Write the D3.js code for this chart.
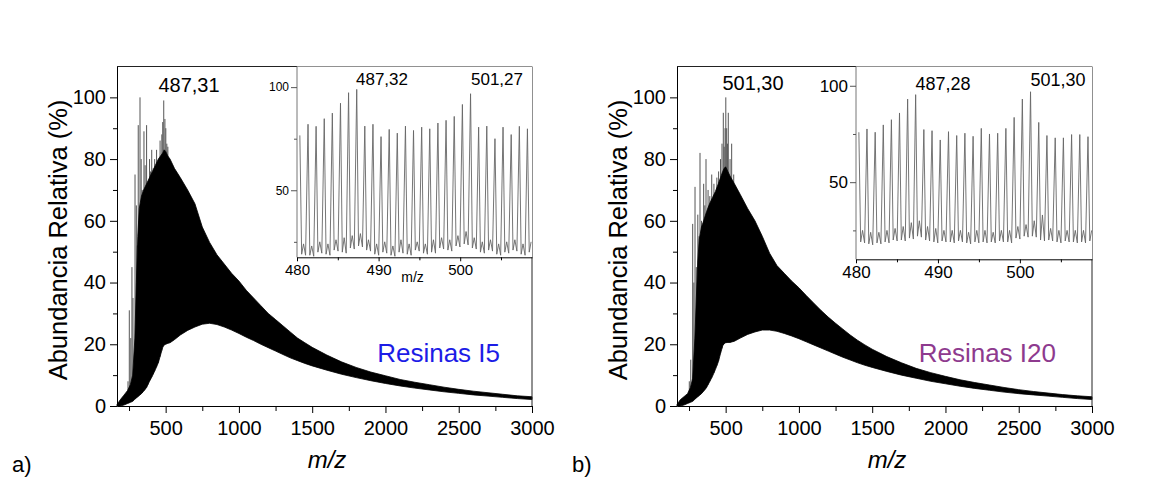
<!DOCTYPE html>
<html>
<meta charset="utf-8" />
<script src="https://d3js.org/d3.v7.min.js"></script>
<style>
  body { margin: 0; background: #fff; }
  svg text { font-family: "Liberation Sans", Arial, sans-serif; }
</style>
<body>
<svg width="1165" height="478" id="fig"></svg>
<script>
// m/z sample points for the envelopes of the full spectra
const envMz = [168, 190, 215, 240, 260, 275, 290, 300, 310, 320, 335, 350, 370, 390, 410, 430, 450, 465, 480, 490,
  500, 515, 530, 560, 600, 650, 700, 750, 800, 850, 900, 950, 1000, 1050, 1100, 1150, 1200, 1250, 1300, 1350,
  1400, 1450, 1500, 1600, 1700, 1800, 1900, 2000, 2100, 2200, 2300, 2400, 2500, 2600, 2700, 2800, 2900, 3000];

// Resinas I5 (a)
const upperA = [0.5, 2, 3.5, 5, 7, 10, 22, 40, 55, 64, 68, 70, 72, 74, 76, 78, 80, 81, 82, 83,
  82.5, 81, 80, 77, 74, 70, 65.5, 58, 53, 49, 46, 43, 40.5, 37.5, 35, 32.5, 30, 28, 26, 24,
  22, 20.5, 19, 16.5, 14.3, 12.5, 11, 9.8, 8.6, 7.7, 6.9, 6.1, 5.4, 4.8, 4.3, 3.8, 3.3, 3.0];
const lowerA = [0, 0, 0.3, 0.8, 1.2, 1.5, 2.2, 2.6, 3, 3.4, 4, 4.8, 6, 8, 9.8, 11.8, 14, 16.5, 19, 19.8,
  20, 20.3, 20.5, 21.5, 23, 24.5, 25.6, 26.5, 26.8, 26.4, 25.6, 24.6, 23.5, 22.3, 21.2, 20, 18.9, 17.8, 16.7, 15.6,
  14.7, 13.8, 13, 11.6, 10.3, 9.2, 8.2, 7.3, 6.5, 5.8, 5.2, 4.6, 4.1, 3.6, 3.2, 2.8, 2.4, 2.1];
const spikesA = [[243, 8], [252, 31], [262, 22], [270, 45], [277, 35], [291, 75], [300, 65], [306, 52], [313, 91],
  [318, 60], [325, 100], [333, 80], [340, 70], [352, 89], [360, 78], [370, 91], [378, 72], [390, 80], [397, 76],
  [405, 83], [415, 77], [425, 80], [438, 83], [450, 78], [462, 86], [474, 88], [480, 92], [487, 99], [495, 93],
  [501, 90], [508, 85], [515, 84]];

// Resinas I20 (b)
const upperB = [0.5, 2, 3, 4, 6, 9, 22, 35, 47, 54, 58, 60, 63, 65.5, 67.5, 69.5, 72, 74, 76, 77,
  77.5, 76, 74.5, 72, 68.5, 64, 60, 55, 49.5, 45.5, 43, 40.5, 38.3, 35.8, 33.4, 31, 28.8, 26.8, 24.9, 23,
  21.3, 19.8, 18.4, 16, 14, 12.2, 10.8, 9.6, 8.5, 7.6, 6.8, 6.0, 5.3, 4.7, 4.2, 3.7, 3.3, 3.0];
const lowerB = [0, 0, 0.3, 0.8, 1.2, 1.5, 2.2, 2.6, 3, 3.4, 4, 4.8, 6, 7.8, 9.6, 11.8, 14.3, 17, 19.5, 20.2,
  20.5, 20.6, 20.6, 21, 22, 23.2, 24, 24.6, 24.6, 24.2, 23.5, 22.7, 21.8, 20.8, 19.8, 18.8, 17.8, 16.8, 15.8, 14.9,
  14, 13.2, 12.5, 11.2, 10, 9, 8, 7.2, 6.4, 5.7, 5.1, 4.5, 4.0, 3.6, 3.2, 2.8, 2.4, 2.1];
const spikesB = [[252, 8], [262, 15], [275, 59], [283, 40], [291, 71], [300, 45], [310, 62], [318, 55], [325, 82],
  [335, 60], [350, 72], [358, 65], [366, 80], [380, 70], [392, 68], [405, 75], [420, 72], [440, 74], [452, 76],
  [465, 80], [475, 85], [484, 95], [490, 84], [496, 90], [501, 100], [507, 90], [512, 85], [518, 95], [530, 80],
  [541, 85], [555, 75]];

// zoomed region 480-509
const insetPeaksA = [480.35, 481.35, 482.34, 483.34, 484.33, 485.33, 486.32, 487.32, 488.31, 489.31, 490.30,
  491.30, 492.29, 493.29, 494.28, 495.28, 496.27, 497.27, 498.27, 499.27, 500.27, 501.27, 502.26, 503.26,
  504.26, 505.25, 506.25, 507.25, 508.24];
const insetHeightsA = [76.6, 82, 81, 84.7, 87.4, 92.2, 97.3, 98.9, 81.1, 82, 76, 79.5, 77.7, 81.1, 79, 80.6,
  79.8, 82.6, 83.9, 85.8, 91.6, 96.8, 80.6, 81.1, 75, 80.6, 77, 81, 79.8];
const insetTroughsA = [19, 18.5, 20, 19, 21, 20, 22, 23, 21, 19, 20, 18.5, 20, 19, 21, 19.5, 20, 22, 21, 23,
  24, 22, 20, 21, 19, 20, 21, 19, 20];
const insetBumpsA = [24, 23, 25, 24, 26, 27, 28, 29, 26, 24, 25, 23, 26, 24, 25, 24, 26, 27, 26, 28, 30, 27,
  25, 26, 24, 25, 26, 24, 25];

const insetPeaksB = [480.35, 481.34, 482.34, 483.33, 484.32, 485.31, 486.30, 487.28, 488.28, 489.28, 490.28,
  491.29, 492.29, 493.29, 494.29, 495.29, 496.29, 497.29, 498.29, 499.30, 500.30, 501.30, 502.30, 503.30,
  504.31, 505.31, 506.31, 507.31, 508.31];
const insetHeightsB = [75.9, 77.6, 75.9, 79.7, 82.4, 85.9, 93.1, 95.4, 77.3, 76.7, 71.9, 76.2, 74.2, 75.4, 73.8,
  77.9, 75, 75.4, 77.9, 83.6, 93.1, 96.9, 81, 74.2, 73, 73, 74.7, 74.7, 73.6];
const insetTroughsB = [19, 18, 18.5, 19, 20, 20, 21, 22, 20, 19, 19.5, 19, 19.5, 18.5, 19, 19, 19, 19.5, 19, 21,
  22, 22, 20, 20, 19, 19.5, 19, 19, 19.5];
const insetBumpsB = [25, 24, 24, 25, 26, 27, 29, 30, 27, 26, 25, 25, 25, 24, 25, 25, 24, 25, 25, 27, 28, 30, 33,
  26, 25, 25, 25, 25, 25];

const xMajor = [500, 1000, 1500, 2000, 2500, 3000];
const xMinor = [250, 750, 1250, 1750, 2250, 2750];
const yMajor = [0, 20, 40, 60, 80, 100];
const yMinor = [10, 30, 50, 70, 90];
const insetXMajor = [480, 490, 500];
const insetXMinor = [485, 495, 505];
const insetYMajor = [50, 100];
const insetYMinor = [25, 75];

const svg = d3.select("#fig");
svg.append("rect").attr("width", 1165).attr("height", 478).attr("fill", "#fff");

function styleAxis(g, size) {
  g.attr("font-family", "Liberation Sans, Arial, sans-serif").attr("font-size", size);
  g.selectAll("path,line").attr("stroke", "#000");
  g.selectAll("text").attr("fill", "#000");
}

function drawPanel(p) {
  const left = 117 + p.dx, right = 532 + p.dx, top = 66.5, bottom = 406;
  const x = d3.scaleLinear().domain([168, 3000]).range([left, right]);
  const y = d3.scaleLinear().domain([0, 110]).range([bottom, top]);
  const g = svg.append("g");

  // base of the thin peaks = lower envelope at that m/z
  const lowAt = d3.scaleLinear().domain(envMz).range(p.lower);

  g.selectAll(".spike")
    .data(p.spikes)
    .enter()
    .append("line")
    .attr("x1", (d) => x(d[0]))
    .attr("x2", (d) => x(d[0]))
    .attr("y1", (d) => y(lowAt(d[0])))
    .attr("y2", (d) => y(d[1]))
    .attr("stroke", "#555")
    .attr("stroke-width", 1);

  const env = envMz.map((m, i) => ({ m: m, hi: p.upper[i], lo: p.lower[i] }));
  const area = d3.area()
    .x((d) => x(d.m))
    .y0((d) => y(d.lo))
    .y1((d) => y(d.hi));
  g.append("path").datum(env).attr("d", area)
    .attr("fill", "#000").attr("stroke", "#000").attr("stroke-width", 0.8);

  // frame
  g.append("path")
    .attr("d", `M${left},${top}H${right}V${bottom}`)
    .attr("fill", "none").attr("stroke", "#222").attr("stroke-width", 1);

  const ax = g.append("g").attr("transform", `translate(0,${bottom})`)
    .call(d3.axisBottom(x).tickValues(xMajor).tickSize(7).tickSizeOuter(0).tickPadding(8).tickFormat(d3.format("d")));
  styleAxis(ax, 20);
  const axm = g.append("g").attr("transform", `translate(0,${bottom})`)
    .call(d3.axisBottom(x).tickValues(xMinor).tickSize(5).tickFormat(""));
  axm.select(".domain").remove();
  styleAxis(axm, 20);

  const ay = g.append("g").attr("transform", `translate(${left},0)`)
    .call(d3.axisLeft(y).tickValues(yMajor).tickSize(7).tickSizeOuter(0).tickPadding(4));
  styleAxis(ay, 20);
  const aym = g.append("g").attr("transform", `translate(${left},0)`)
    .call(d3.axisLeft(y).tickValues(yMinor).tickSize(4).tickFormat(""));
  aym.select(".domain").remove();
  styleAxis(aym, 20);

  g.append("text")
    .attr("transform", `translate(${67 + p.dx},240) rotate(-90)`)
    .attr("text-anchor", "middle").attr("font-size", 25.5)
    .text("Abundancia Relativa (%)");

  g.append("text")
    .attr("x", 327 + p.dx).attr("y", 468)
    .attr("text-anchor", "middle").attr("font-size", 24).attr("font-style", "italic")
    .text("m/z");

  g.append("text")
    .attr("x", 12 + p.dx).attr("y", 472)
    .attr("font-size", 22)
    .text(p.letter);

  g.append("text")
    .attr("x", p.mainLabelX).attr("y", p.mainLabelY)
    .attr("text-anchor", "middle").attr("font-size", 20)
    .text(p.mainLabel);

  g.append("text")
    .attr("x", p.resinX).attr("y", 362)
    .attr("text-anchor", "end").attr("font-size", 26).attr("fill", p.resinColor)
    .text(p.resin);

  // inset
  const ins = p.inset;
  const ix = d3.scaleLinear().domain([480, 508.8]).range([ins.left, right]);
  const iy = d3.scaleLinear().domain([ins.yMin, 110]).range([ins.bottom, top]);
  const ig = g.append("g");
  ig.append("rect").attr("x", ins.left).attr("y", top)
    .attr("width", right - ins.left).attr("height", ins.bottom - top).attr("fill", "#fff");

  const pts = [];
  ins.peaks.forEach((pk, i) => {
    pts.push([pk, ins.heights[i]]);
    pts.push([pk + 0.22, ins.troughs[i]]);
    pts.push([pk + 0.45, ins.bumps[i]]);
    pts.push([pk + 0.7, ins.troughs[i] - 0.5]);
  });
  const line = d3.line().x((d) => ix(d[0])).y((d) => iy(d[1]));
  ig.append("path").datum(pts.filter((d) => d[0] <= 508.8)).attr("d", line)
    .attr("fill", "none").attr("stroke", "#666").attr("stroke-width", 0.9);

  ig.append("line").attr("x1", ins.left).attr("x2", ins.left).attr("y1", top).attr("y2", ins.bottom)
    .attr("stroke", "#777").attr("stroke-width", 1);

  const iax = ig.append("g").attr("transform", `translate(0,${ins.bottom})`)
    .call(d3.axisBottom(ix).tickValues(insetXMajor).tickSize(4).tickSizeOuter(0).tickPadding(ins.xPad));
  styleAxis(iax, ins.xFont);
  const iaxm = ig.append("g").attr("transform", `translate(0,${ins.bottom})`)
    .call(d3.axisBottom(ix).tickValues(insetXMinor).tickSize(3).tickFormat(""));
  iaxm.select(".domain").remove();
  styleAxis(iaxm, ins.xFont);

  const iay = ig.append("g").attr("transform", `translate(${ins.left},0)`)
    .call(d3.axisLeft(iy).tickValues(insetYMajor).tickSize(6).tickPadding(2));
  iay.select(".domain").remove();
  styleAxis(iay, ins.yFont);
  iay.selectAll("line").attr("stroke", "#555");
  const iaym = ig.append("g").attr("transform", `translate(${ins.left},0)`)
    .call(d3.axisLeft(iy).tickValues(insetYMinor).tickSize(3).tickFormat(""));
  iaym.select(".domain").remove();
  styleAxis(iaym, ins.yFont);
  iaym.selectAll("line").attr("stroke", "#555");

  if (ins.showTitle) {
    ig.append("text").attr("x", (ins.left + right) / 2 - 2).attr("y", 282)
      .attr("text-anchor", "middle").attr("font-size", 14).text("m/z");
  }

  ins.labels.forEach((l) => {
    ig.append("text").attr("x", l.x).attr("y", l.y)
      .attr("text-anchor", "middle").attr("font-size", ins.labelFont).text(l.t);
  });
}

drawPanel({
  dx: 0, upper: upperA, lower: lowerA, spikes: spikesA, letter: "a)",
  mainLabel: "487,31", mainLabelX: 189, mainLabelY: 92,
  resin: "Resinas I5", resinX: 500, resinColor: "#1c1ce6",
  inset: {
    left: 297, bottom: 257.3, yMin: 17.5, xFont: 15, yFont: 12, xPad: 3, labelFont: 17, showTitle: true,
    peaks: insetPeaksA, heights: insetHeightsA, troughs: insetTroughsA, bumps: insetBumpsA,
    labels: [{ t: "487,32", x: 382, y: 85 }, { t: "501,27", x: 497, y: 85 }]
  }
});

drawPanel({
  dx: 560, upper: upperB, lower: lowerB, spikes: spikesB, letter: "b)",
  mainLabel: "501,30", mainLabelX: 753, mainLabelY: 90,
  resin: "Resinas I20", resinX: 1056, resinColor: "#8e3a8e",
  inset: {
    left: 856, bottom: 259.3, yMin: 10, xFont: 17, yFont: 17, xPad: 3, labelFont: 18, showTitle: false,
    peaks: insetPeaksB, heights: insetHeightsB, troughs: insetTroughsB, bumps: insetBumpsB,
    labels: [{ t: "487,28", x: 943, y: 90 }, { t: "501,30", x: 1058, y: 86 }]
  }
});
</script>
</body>
</html>
